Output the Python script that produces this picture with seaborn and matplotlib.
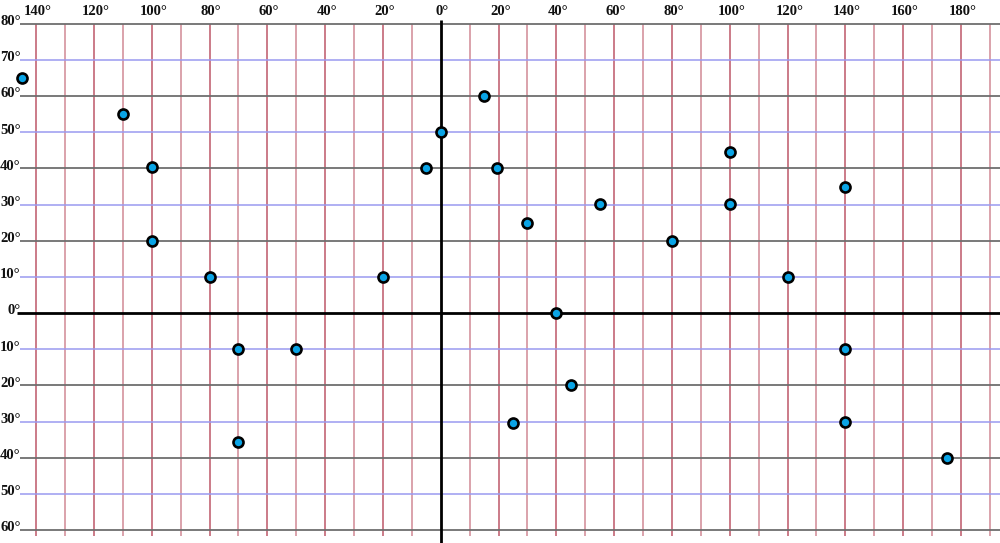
import matplotlib
matplotlib.use("Agg")
import matplotlib.pyplot as plt
import seaborn as sns
import pandas as pd

# ── Données : positions (longitude, latitude) des points ─────────────
lon = [-145, -110, -100, -100, -80, -70, -70, -50, -20, -5, 0, 15, 19.5,
       30, 55, 40, 45, 25, 80, 100, 100, 120, 140, 140, 140, 175]
lat = [65, 55, 40.4, 20, 10, -10, -35.6, -10, 10, 40, 50, 60, 40,
       25, 30.2, 0, -20, -30.3, 20, 44.5, 30.3, 10, 35, -10, -30.2, -40]

# graduations
lon_ticks = list(range(-140, 200, 10))
lon_labels = list(range(-140, 190, 20))
lat_ticks = list(range(80, -70, -10))

# ── Style ────────────────────────────────────────────────────────────
sns.set_style("white")
plt.rcParams["font.family"] = ["Liberation Serif", "DejaVu Serif"]

RED = "#b23a4e"
BLUE = "#9a9af0"
GRAY = "#6e6e6e"

XMIN, XMAX = -152.5, 193.5
YMIN, YMAX = -63.6, 86.6
LINE_X0 = -145.6

fig = plt.figure(figsize=(10, 5.43), dpi=100)
ax = fig.add_axes([0, 0, 1, 1])

# lignes verticales (méridiens)
for i, x in enumerate(lon_ticks):
    if x == 0:
        continue
    ax.vlines(x, -61.8, 80, color=RED, lw=1.1,
              alpha=0.85 if i % 2 == 0 else 0.6, zorder=1)

# lignes horizontales (parallèles)
for y in lat_ticks:
    if y == 0:
        continue
    if y % 20 == 0:
        ax.hlines(y, LINE_X0, XMAX, color=GRAY, lw=1.3, zorder=1.5)
    else:
        ax.hlines(y, LINE_X0, XMAX, color=BLUE, lw=1.1, zorder=1.5)

# axes principaux
ax.hlines(0, -146.5, XMAX, color="black", lw=2.0, zorder=2)
ax.vlines(0, YMIN, 81.2, color="black", lw=2.0, zorder=2)

# étiquettes
for x in lon_labels:
    ax.text(x + 0.6, 83.3, f"{abs(x)}°", ha="center", va="center",
            fontsize=10.5, fontweight="bold", color="#111111")
for y in lat_ticks:
    ax.text(LINE_X0 + 0.3, y + 0.6, f"{abs(y)}°", ha="right", va="center",
            fontsize=10.5, fontweight="bold", color="#111111")

# points
df = pd.DataFrame({"lon": lon, "lat": lat})
sns.scatterplot(data=df, x="lon", y="lat", ax=ax, s=52,
                color="#0aa4e6", edgecolor="black", linewidth=1.9, zorder=5)
ax.set_xlim(XMIN, XMAX)
ax.set_ylim(YMIN, YMAX)
ax.axis("off")

fig.savefig("out.png", dpi=100, facecolor="white")
plt.close(fig)
